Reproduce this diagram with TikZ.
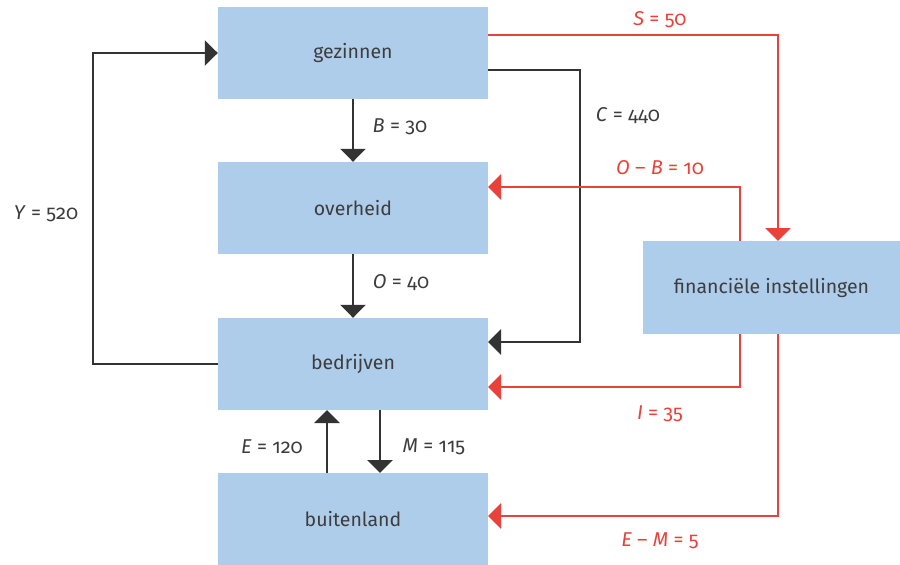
\documentclass[tikz,border=0pt]{standalone}
\usepackage{fontspec}
\setmainfont[Numbers=OldStyle]{Fira Sans}
\usetikzlibrary{arrows.meta}
\definecolor{boxblue}{HTML}{AECDEB}
\definecolor{darkln}{HTML}{333333}
\definecolor{txtgray}{HTML}{3D3D3D}
\definecolor{redln}{HTML}{E8423A}
\begin{document}
\begin{tikzpicture}[x=1pt,y=-1pt,
  sector/.style={fill=boxblue, draw=none, minimum width=270pt, minimum height=92pt, inner sep=0pt, text=txtgray, font=\fontsize{19.5}{22}\selectfont},
  flow/.style={line width=2.6pt, draw=darkln, -{Triangle[width=25pt,length=13pt]}},
  rflow/.style={line width=2.6pt, draw=redln, -{Triangle[width=25pt,length=13pt]}},
  lbl/.style={text=txtgray, font=\fontsize{20}{22}\selectfont},
  rlbl/.style={text=redln, font=\fontsize{20}{22}\selectfont}]
\useasboundingbox (0,0) rectangle (900,565);
\node[sector] (gez) at (353,53) {gezinnen};
\node[sector] (ovh) at (353,208) {overheid};
\node[sector] (bed) at (353,364) {bedrijven};
\node[sector] (bui) at (353,519) {buitenland};
\node[sector, minimum width=257pt, minimum height=93pt] (fin) at (771.5,287.5) {financiële instellingen};

% black flows
\coordinate (y1) at (93,364);
\coordinate (y2) at (93,53);
\draw[flow] (bed.west) -- (y1) -- (y2) -- (gez.west);
\node[lbl] (ylab) at (46,214) {\textit{Y} = 520};

\draw[flow] (gez.south) -- (ovh.north);
\node[lbl] (blab) at (400,127) {\textit{B} = 30};
\draw[flow] (ovh.south) -- (bed.north);
\node[lbl] (olab) at (401,283) {\textit{O} = 40};

\coordinate (c0) at (488,70);
\coordinate (c1) at (580,70);
\coordinate (c2) at (580,342);
\coordinate (c3) at (488,342);
\draw[flow] (c0) -- (c1) -- (c2) -- (c3);
\node[lbl] (clab) at (628,116) {\textit{C} = 440};

\coordinate (e0) at (327,473);
\coordinate (e1) at (327,410);
\draw[flow] (e0) -- (e1);
\node[lbl] (elab) at (272,447) {\textit{E} = 120};
\coordinate (m0) at (380,410);
\coordinate (m1) at (380,473);
\draw[flow] (m0) -- (m1);
\node[lbl] (mlab) at (434,447) {\textit{M} = 115};

% red flows
\coordinate (s0) at (488,35);
\coordinate (s1) at (778,35);
\coordinate (s2) at (778,241);
\draw[rflow] (s0) -- (s1) -- (s2);
\node[rlbl] (slab) at (660,20) {\textit{S} = 50};

\coordinate (ob0) at (740,241);
\coordinate (ob1) at (740,187);
\coordinate (ob2) at (488,187);
\draw[rflow] (ob0) -- (ob1) -- (ob2);
\node[rlbl] (oblab) at (660,168) {\textit{O} – \textit{B} = 10};

\coordinate (i0) at (740,334);
\coordinate (i1) at (740,387);
\coordinate (i2) at (488,387);
\draw[rflow] (i0) -- (i1) -- (i2);
\node[rlbl] (ilab) at (660,414) {\textit{I} = 35};

\coordinate (em0) at (778,334);
\coordinate (em1) at (778,516);
\coordinate (em2) at (488,516);
\draw[rflow] (em0) -- (em1) -- (em2);
\node[rlbl] (emlab) at (660,541) {\textit{E} – \textit{M} = 5};
\end{tikzpicture}
\end{document}
